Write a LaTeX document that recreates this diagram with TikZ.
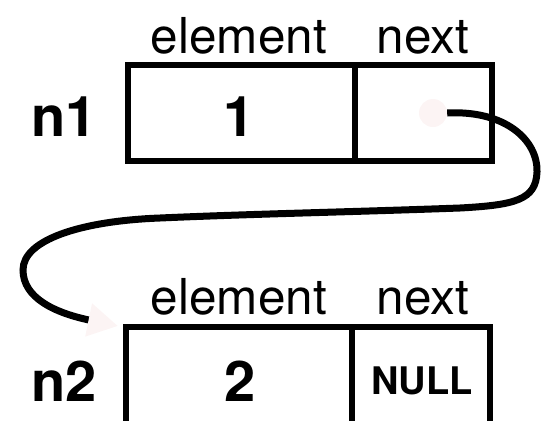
\documentclass[tikz,border=0pt]{standalone}
\usepackage{fontspec}
\setmainfont{TeX Gyre Heros}
\usetikzlibrary{arrows.meta}
\definecolor{dotpink}{RGB}{252,244,244}
\tikzset{
  cell/.style={draw=black, line width=6pt, rectangle, inner sep=0pt, outer sep=0pt, minimum height=#1},
  fieldlabel/.style={anchor=base, inner sep=0pt, font=\fontsize{49.5}{52}\selectfont},
  bigbold/.style={anchor=base, inner sep=0pt, font=\fontsize{56}{60}\selectfont\bfseries},
  nullbold/.style={anchor=base, inner sep=0pt, font=\fontsize{38}{40}\selectfont\bfseries},
  link/.style={line width=7pt, black, -{Triangle[length=30pt, width=32pt, color=dotpink]}}
}
\begin{document}
\begin{tikzpicture}[x=1pt,y=-1pt]
\useasboundingbox (0,0) rectangle (542,421);
\clip (0,0) rectangle (542,421);
% node 1
\node[cell=96pt, minimum width=227pt] (e1) at (241.5,113) {};
\node[cell=96pt, minimum width=137pt] (x1) at (423.5,113) {};
\node[fieldlabel] (le1) at (239,53) {element};
\node[fieldlabel] (lx1) at (423,53) {next};
\node[bigbold] (n1) at (64,136) {n1};
\node[bigbold] (v1) at (239,136) {1};
\node[circle, fill=dotpink, minimum size=28pt, inner sep=0pt] (dot) at (433,113) {};
% node 2
\node[cell=160pt, minimum width=226pt] (e2) at (239,407) {};
\node[cell=160pt, minimum width=138pt] (x2) at (421,407) {};
\node[fieldlabel] (le2) at (239,314) {element};
\node[fieldlabel] (lx2) at (423,314) {next};
\node[bigbold] (n2) at (64,401) {n2};
\node[bigbold] (v2) at (240,401) {2};
\node[nullbold] (nl) at (422,394) {NULL};
\coordinate (tip) at (118,326);
% link
\draw[link] (dot.east) .. controls (505,110) and (538,140) .. (537,172)
  .. controls (536,200) and (515,205) .. (460,208)
  .. controls (350,212) and (250,214) .. (160,218)
  .. controls (80,221) and (23,240) .. (23,270)
  .. controls (23,298) and (55,313) .. (tip);
\end{tikzpicture}
\end{document}
